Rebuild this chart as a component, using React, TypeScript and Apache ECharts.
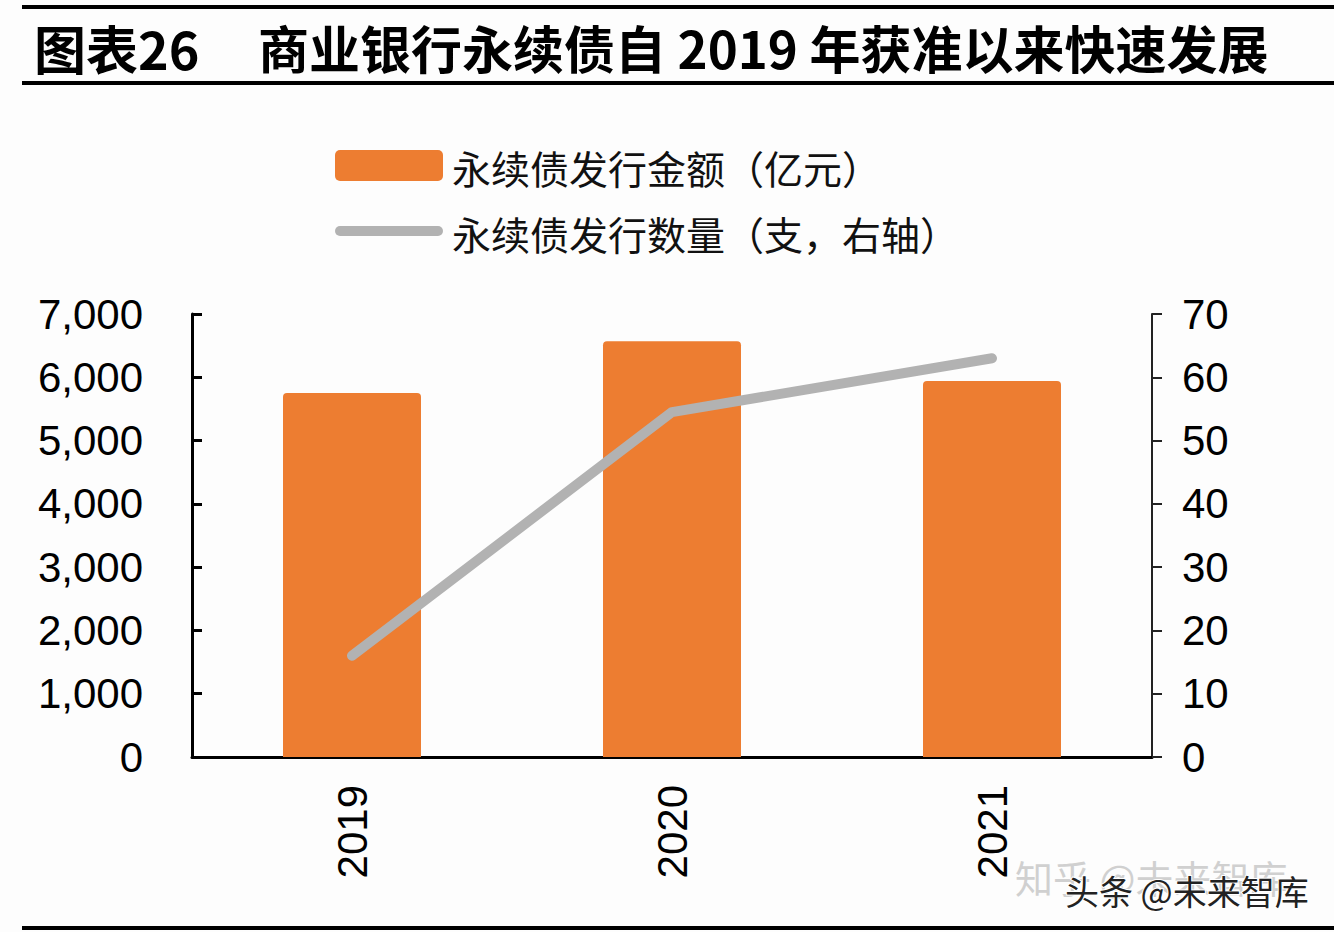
import React, { useEffect, useRef } from "react";
import * as echarts from "echarts";

const years = ["2019", "2020", "2021"];
const issueAmount = [5750, 6570, 5940]; // 亿元
const issueCount = [16, 54.5, 63]; // 支 (right axis)
const leftTicks = { min: 0, max: 7000, interval: 1000 };
const rightTicks = { min: 0, max: 70, interval: 10 };

const titleLeft = "图表26";
const titleMain = "商业银行永续债自 2019 年获准以来快速发展";
const legendBar = "永续债发行金额（亿元）";
const legendLine = "永续债发行数量（支，右轴）";

const CJK = '"Noto Sans CJK SC", "Noto Sans", sans-serif';
const NUM = '"Liberation Sans", Arial, sans-serif';

export default function App() {
  const ref = useRef<HTMLDivElement>(null);
  useEffect(() => {
    if (!ref.current) return;
    const chart = echarts.init(ref.current, null, { renderer: "svg" });
    chart.setOption({
      animation: false,
      backgroundColor: "#fdfdfd",
      grid: { left: 192, right: 182, top: 314, bottom: 175, containLabel: false },
      xAxis: {
        type: "category",
        data: years,
        boundaryGap: true,
        axisLine: { lineStyle: { color: "#000", width: 3 } },
        axisTick: { inside: true, length: 10, lineStyle: { color: "#000", width: 2 } },
        axisLabel: { rotate: 90, margin: 28, fontSize: 42, fontFamily: NUM, color: "#000" },
      },
      yAxis: [
        {
          type: "value",
          min: leftTicks.min,
          max: leftTicks.max,
          interval: leftTicks.interval,
          splitLine: { show: false },
          axisLine: { show: true, lineStyle: { color: "#000", width: 3 } },
          axisTick: { show: true, inside: true, length: 10, lineStyle: { color: "#000", width: 3 } },
          axisLabel: {
            margin: 49,
            fontSize: 42,
            fontFamily: NUM,
            color: "#000",
            formatter: (v: number) => v.toLocaleString("en-US"),
          },
        },
        {
          type: "value",
          position: "right",
          min: rightTicks.min,
          max: rightTicks.max,
          interval: rightTicks.interval,
          splitLine: { show: false },
          axisLine: { show: true, lineStyle: { color: "#222", width: 2 } },
          axisTick: { show: true, inside: false, length: 10, lineStyle: { color: "#222", width: 2 } },
          axisLabel: { margin: 30, fontSize: 42, fontFamily: NUM, color: "#000" },
        },
      ],
      series: [
        {
          name: legendBar,
          type: "bar",
          data: issueAmount,
          barWidth: 138,
          itemStyle: { color: "#ED7D31", borderRadius: [4, 4, 0, 0] },
        },
        {
          name: legendLine,
          type: "line",
          yAxisIndex: 1,
          data: issueCount,
          symbol: "none",
          lineStyle: { color: "#B2B2B2", width: 10, cap: "round", join: "round" },
        },
      ],
      graphic: [
        { type: "rect", shape: { x: 22, y: 5, width: 1312, height: 4 }, style: { fill: "#000" } },
        { type: "rect", shape: { x: 22, y: 81, width: 1312, height: 4 }, style: { fill: "#000" } },
        { type: "rect", shape: { x: 22, y: 926, width: 1312, height: 4 }, style: { fill: "#000" } },
        {
          type: "text",
          x: 34,
          y: 47,
          style: { text: titleLeft, fontSize: 52, fontWeight: "bold", fontFamily: CJK, fill: "#000", verticalAlign: "middle" },
        },
        {
          type: "text",
          x: 258,
          y: 47,
          style: { text: titleMain, fontSize: 51, fontWeight: "bold", fontFamily: CJK, fill: "#000", verticalAlign: "middle" },
        },
        { type: "rect", shape: { x: 335, y: 150, width: 108, height: 31, r: 5 }, style: { fill: "#ED7D31" } },
        {
          type: "text",
          x: 452,
          y: 167,
          style: { text: legendBar, fontSize: 39, fontFamily: CJK, fill: "#111", verticalAlign: "middle" },
        },
        {
          type: "line",
          shape: { x1: 340, y1: 231, x2: 438, y2: 231 },
          style: { stroke: "#B2B2B2", lineWidth: 10, lineCap: "round" },
        },
        {
          type: "text",
          x: 452,
          y: 233,
          style: { text: legendLine, fontSize: 39, fontFamily: CJK, fill: "#111", verticalAlign: "middle" },
        },
        {
          type: "text",
          x: 1015,
          y: 876,
          style: { text: "知乎 @未来智库", fontSize: 38, fontFamily: CJK, fill: "#d0d0d0", verticalAlign: "middle" },
        },
        {
          type: "text",
          x: 1065,
          y: 890,
          style: {
            text: "头条 @未来智库",
            fontSize: 34,
            fontFamily: CJK,
            fill: "#222",
            stroke: "#fff",
            lineWidth: 2,
            verticalAlign: "middle",
          },
        },
      ],
    });
    return () => chart.dispose();
  }, []);
  return (
    <div
      ref={ref}
      style={{ position: "fixed", left: 0, top: 0, width: 1334, height: 932 }}
    />
  );
}
